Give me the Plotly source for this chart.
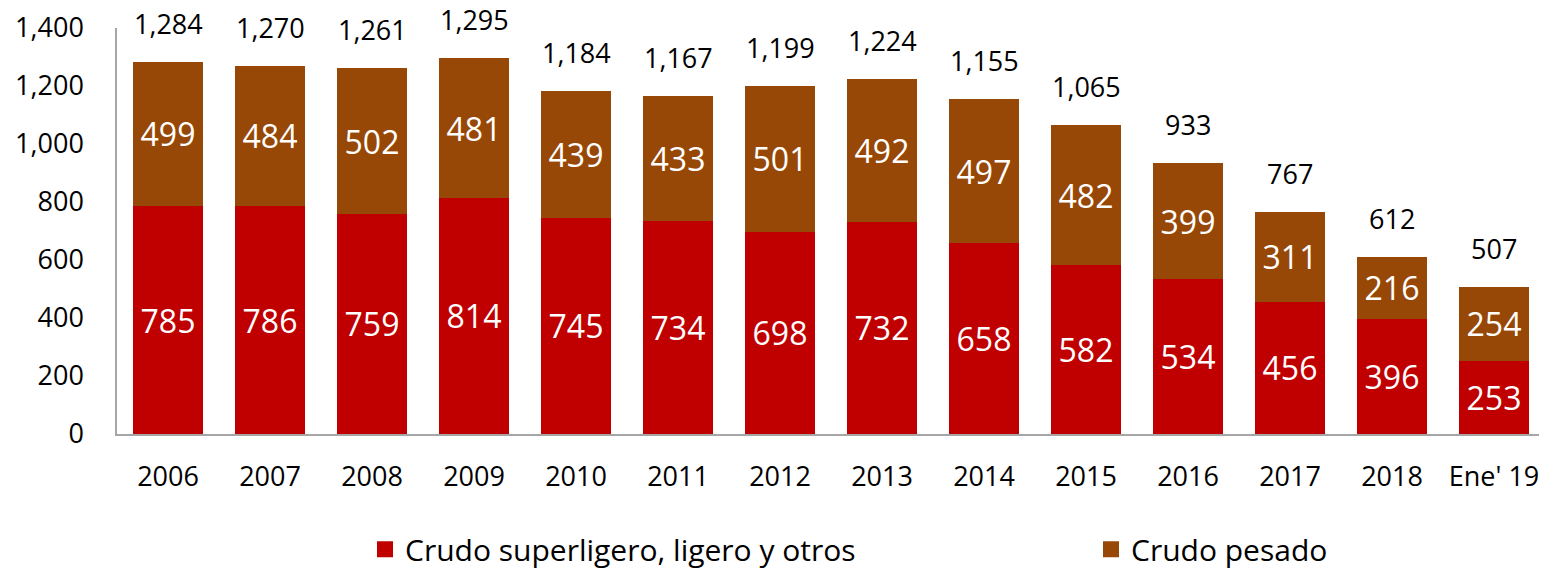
import plotly.graph_objects as go

categories = ["2006", "2007", "2008", "2009", "2010", "2011", "2012", "2013",
              "2014", "2015", "2016", "2017", "2018", "Ene' 19"]
ligero = [785, 786, 759, 814, 745, 734, 698, 732, 658, 582, 534, 456, 396, 253]
pesado = [499, 484, 502, 481, 439, 433, 501, 492, 497, 482, 399, 311, 216, 254]
totales = [1284, 1270, 1261, 1295, 1184, 1167, 1199, 1224, 1155, 1065, 933, 767, 612, 507]
series_names = ["Crudo superligero, ligero y otros", "Crudo pesado"]

RED = "#C00000"
BROWN = "#984806"
FONT = "Open Sans"

# page body has an 8px default margin; size the figure to fit the visible window
W, H = 1539, 562

fig = go.Figure()
fig.add_trace(go.Bar(
    x=categories, y=ligero, name=series_names[0], showlegend=False,
    marker=dict(color=RED, line=dict(width=0)),
    text=[str(v) for v in ligero], textposition="inside", insidetextanchor="middle",
    textfont=dict(color="white", size=32, family=FONT), textangle=0,
))
fig.add_trace(go.Bar(
    x=categories, y=pesado, name=series_names[1], showlegend=False,
    marker=dict(color=BROWN, line=dict(width=0)),
    text=[str(v) for v in pesado], textposition="inside", insidetextanchor="middle",
    textfont=dict(color="white", size=32, family=FONT), textangle=0,
))

# legend entries (square swatches)
fig.add_trace(go.Scatter(x=[None], y=[None], mode="markers", name=series_names[0],
                         marker=dict(symbol="square", size=16, color=RED), legend="legend"))
fig.add_trace(go.Scatter(x=[None], y=[None], mode="markers", name=series_names[1],
                         marker=dict(symbol="square", size=16, color=BROWN), legend="legend2"))

for i, t in enumerate(totales):
    fig.add_annotation(x=i, y=t, xref="x", yref="y", text=f"{t:,}", showarrow=False,
                       yanchor="bottom", yshift=18,
                       font=dict(size=27, color="black", family=FONT))

legend_common = dict(orientation="h", yref="container", xref="container",
                     y=0.037, yanchor="middle", xanchor="left",
                     font=dict(size=30, family=FONT, color="black"),
                     itemsizing="trace", bgcolor="rgba(0,0,0,0)")

fig.update_layout(
    barmode="stack", bargap=0.31,
    width=W, height=H,
    margin=dict(l=109, r=2, t=20, b=136, autoexpand=False),
    paper_bgcolor="white", plot_bgcolor="white",
    font=dict(family=FONT, color="black"),
    showlegend=True,
    legend=dict(x=357 / W, **legend_common),
    legend2=dict(x=1083 / W, **legend_common),
)
fig.update_xaxes(type="category", range=[-0.5, len(categories) - 0.5], automargin=False,
                 showline=True, linecolor="#A6A6A6", linewidth=1.5,
                 ticks="", tickfont=dict(size=27, family=FONT),
                 ticklabelstandoff=18, showgrid=False)
fig.update_yaxes(range=[0, 1400], dtick=200, tickformat=",d", automargin=False,
                 showline=True, linecolor="#A6A6A6", linewidth=1.5,
                 showgrid=False, ticks="", tickfont=dict(size=27, family=FONT),
                 ticklabelstandoff=26, zeroline=False)

fig.write_html("out.html")
